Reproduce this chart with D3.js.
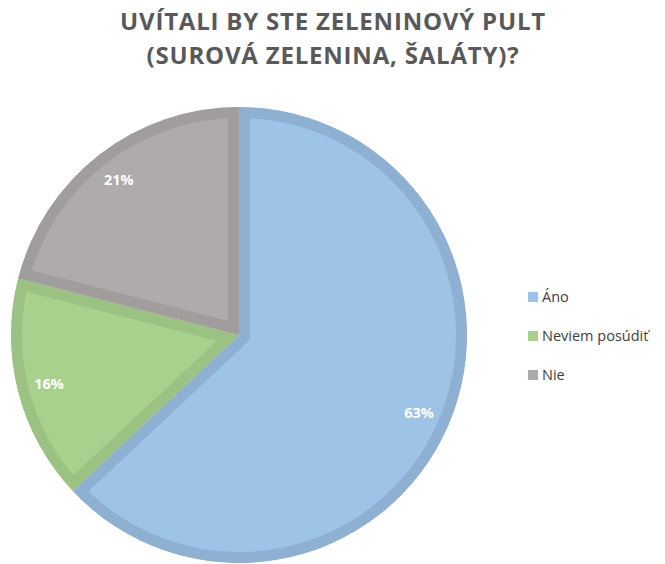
<!DOCTYPE html>
<html>
<head>
<meta charset="utf-8">
<script src="https://cdn.jsdelivr.net/npm/d3@7"></script>
<style>
body { margin: 0; background: #fff; }
svg { display: block; }
</style>
</head>
<body>
<script>
// data
var categories = ["Áno", "Neviem posúdiť", "Nie"];
var values = [63, 16, 21];
var labels = ["63%", "16%", "21%"];
var fills = ["#9dc3e6", "#a9d18e", "#afabab"];
var borders = ["#8eb0d2", "#9cc283", "#a19d9c"];
var titleLines = ["UVÍTALI BY STE ZELENINOVÝ PULT", "(SUROVÁ ZELENINA, ŠALÁTY)?"];

var width = 665, height = 564;
var cx = 239, cy = 335, r = 228;

var svg = d3.select("body").append("svg")
  .attr("width", width)
  .attr("height", height);

// title
svg.append("g").selectAll("text")
  .data(titleLines)
  .enter().append("text")
  .attr("x", 333)
  .attr("y", function (d, i) { return 30 + i * 34; })
  .attr("text-anchor", "middle")
  .attr("font-family", "'Open Sans', sans-serif")
  .attr("font-weight", "bold")
  .attr("font-size", "24px")
  .attr("letter-spacing", "0.8px")
  .attr("fill", "#595959")
  .text(function (d) { return d; });

var pie = d3.pie().sort(null).value(function (d) { return d; });
var arcs = pie(values);
var arc = d3.arc().innerRadius(0).outerRadius(r);

var g = svg.append("g").attr("transform", "translate(" + cx + "," + cy + ")");
var defs = svg.append("defs");

defs.selectAll("clipPath")
  .data(arcs)
  .enter().append("clipPath")
  .attr("id", function (d, i) { return "clip" + i; })
  .append("path")
  .attr("d", arc);

// slices, border drawn only inside each slice
g.selectAll("path.slice")
  .data(arcs)
  .enter().append("path")
  .attr("class", "slice")
  .attr("d", arc)
  .attr("clip-path", function (d, i) { return "url(#clip" + i + ")"; })
  .attr("fill", function (d, i) { return fills[i]; })
  .attr("stroke", function (d, i) { return borders[i]; })
  .attr("stroke-width", 22)
  .attr("stroke-linejoin", "miter");

// percent labels
var labelArc = d3.arc().innerRadius(r * 0.86).outerRadius(r * 0.86);
g.selectAll("text.lbl")
  .data(arcs)
  .enter().append("text")
  .attr("class", "lbl")
  .attr("transform", function (d) {
    var c = labelArc.centroid(d);
    return "translate(" + c[0] + "," + c[1] + ")";
  })
  .attr("text-anchor", "middle")
  .attr("dy", "0.35em")
  .attr("font-family", "'Open Sans', sans-serif")
  .attr("font-weight", "bold")
  .attr("font-size", "14.5px")
  .attr("fill", "#ffffff")
  .text(function (d, i) { return labels[i]; });

// legend
var legend = svg.append("g").attr("transform", "translate(528,292)");
var item = legend.selectAll("g")
  .data(categories)
  .enter().append("g")
  .attr("transform", function (d, i) { return "translate(0," + i * 39 + ")"; });
item.append("rect")
  .attr("width", 10).attr("height", 10)
  .attr("fill", function (d, i) { return fills[i]; });
item.append("text")
  .attr("x", 14).attr("y", 10)
  .attr("font-family", "'Open Sans', sans-serif")
  .attr("font-size", "14.5px")
  .attr("fill", "#404040")
  .text(function (d) { return d; });
</script>
</body>
</html>
